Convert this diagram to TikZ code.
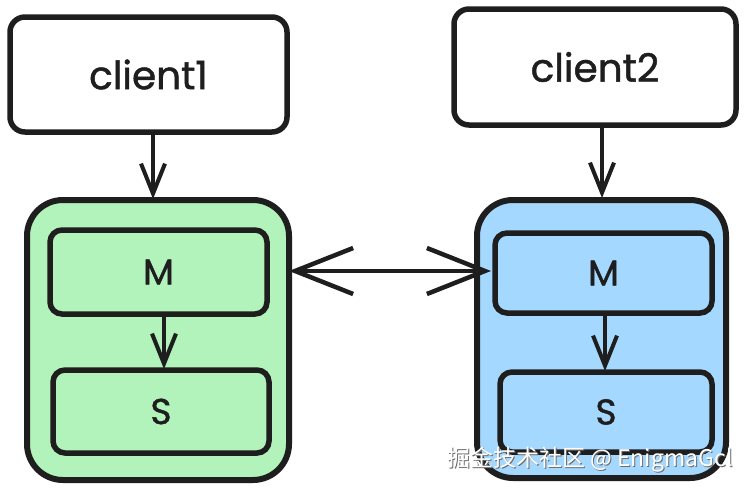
\documentclass[tikz,border=0pt]{standalone}
\usepackage{fontspec}
\setmainfont{Poppins}
\newfontfamily\handfont{Poppins}[FakeBold=1.2]
\newfontfamily\cjk{Noto Sans CJK SC}
\usetikzlibrary{arrows.meta}
\definecolor{ink}{HTML}{1E1E1E}
\definecolor{gfill}{HTML}{B2F2BB}
\definecolor{bfill}{HTML}{A5D8FF}
\begin{document}
\begin{tikzpicture}[x=1pt,y=-1pt,
  box/.style={draw=ink, line width=5.5pt, rounded corners=15pt, fill=white, inner sep=0pt,
    text=ink, font=\handfont\fontsize{39}{42}\selectfont},
  container/.style={draw=ink, line width=6pt, rounded corners=36pt, inner sep=0pt},
  inner/.style={draw=ink, line width=5.5pt, rounded corners=12pt, inner sep=0pt,
    text=ink, font=\handfont\fontsize{36}{38}\selectfont},
  arr/.style={draw=ink, line width=4pt, line cap=round, line join=round,
    -{Straight Barb[length=30pt,width=24pt,line width=4pt]}},
  arrtwo/.style={draw=ink, line width=4pt, line cap=round, line join=round,
    {Straight Barb[length=58pt,width=46pt,line width=4.5pt]}-{Straight Barb[length=58pt,width=46pt,line width=4.5pt]}},
  wm/.style={font=\cjk\fontsize{23}{26}\selectfont, inner sep=0pt}
]
\useasboundingbox (0,0) rectangle (752,490);
\fill[white] (0,0) rectangle (752,490);

% clients
\node[box, minimum width=277pt, minimum height=115pt] (c1) at (148.5,74.5) {client1};
\node[box, minimum width=282pt, minimum height=116pt] (c2) at (595,67) {client2};

% containers
\node[container, fill=gfill, minimum width=262pt, minimum height=280pt] (gC) at (158,340) {};
\node[container, fill=bfill, minimum width=249pt, minimum height=278pt] (bC) at (601.5,339) {};

% inner boxes
\node[inner, minimum width=217pt, minimum height=84pt] (gM) at (158.5,272) {M};
\node[inner, minimum width=216pt, minimum height=83pt] (gS) at (161,411.5) {S};
\node[inner, minimum width=217pt, minimum height=80pt] (bM) at (603.5,273) {M};
\node[inner, minimum width=212pt, minimum height=80pt] (bS) at (606,412) {S};

% connectors
\coordinate (c1a) at (153,133);
\coordinate (c1b) at (153,199);
\draw[arr] (c1a) -- (c1b);
\coordinate (c2a) at (602,125);
\coordinate (c2b) at (602,198);
\draw[arr] (c2a) -- (c2b);
\coordinate (gMa) at (164,314);
\coordinate (gSa) at (164,369);
\draw[arr] (gMa) -- (gSa);
\coordinate (bMa) at (605,313);
\coordinate (bSa) at (605,371);
\draw[arr] (bMa) -- (bSa);
\coordinate (la) at (289,271);
\coordinate (lb) at (491,271);
\draw[arrtwo] (la) -- (lb);

% watermark
\node[wm, text=gray!85!black] (wms) at (591,461) {掘金技术社区 @ EnigmaGcl};
\node[wm, text=white] (wmt) at (590,460) {掘金技术社区 @ EnigmaGcl};
\end{tikzpicture}
\end{document}
